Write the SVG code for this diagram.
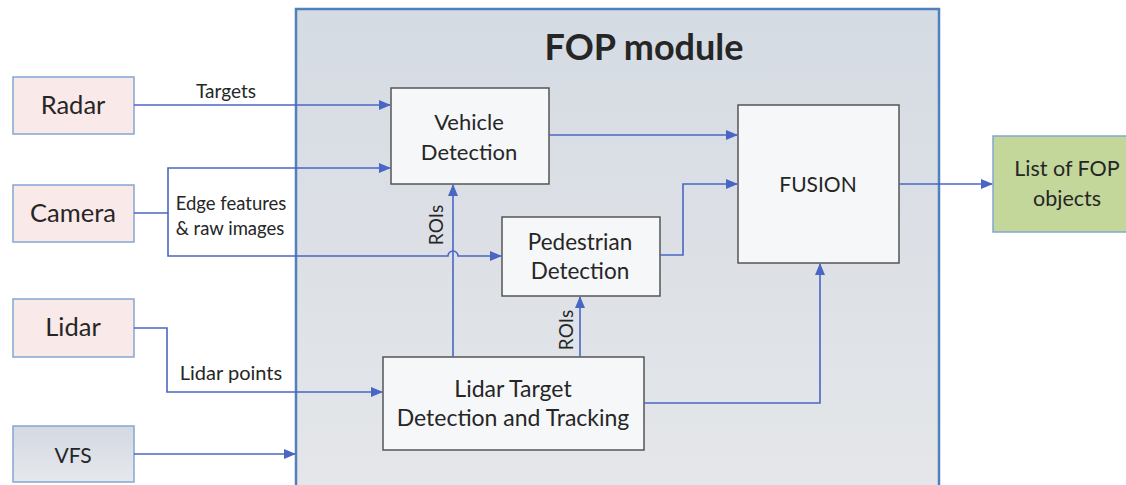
<svg xmlns="http://www.w3.org/2000/svg" width="1126" height="485" viewBox="0 0 1126 485">
  <style>
    .src { fill: #f9e9e8; stroke: #85a6d2; stroke-width: 1.5; }
    .blk { fill: #f6f7f9; stroke: #555; stroke-width: 1.5; }
    .lbl { font-family: Lato, "Open Sans", sans-serif; fill: #262626; text-anchor: middle; dominant-baseline: central; }
    .edge { fill: none; stroke: #4a66c4; stroke-width: 1.6; }
  </style>
  <defs>
    <linearGradient id="modFill" x1="0" y1="0" x2="0" y2="1">
      <stop offset="0" stop-color="#d5dbe3"/>
      <stop offset="1" stop-color="#e4e6e9"/>
    </linearGradient>
    <linearGradient id="vfsFill" x1="0" y1="0" x2="0" y2="1">
      <stop offset="0" stop-color="#d3d9e2"/>
      <stop offset="1" stop-color="#e6e8ec"/>
    </linearGradient>
    <marker id="arr" markerWidth="12" markerHeight="10" refX="11" refY="5" orient="auto" markerUnits="userSpaceOnUse">
      <path d="M0,0 L12,5 L0,10 Z" fill="#4a66c4"/>
    </marker>
  </defs>

  <!-- FOP module container -->
  <g id="fop-module">
    <rect x="296" y="9" width="643" height="478" fill="url(#modFill)" stroke="#4f81bd" stroke-width="2.5"/>
    <text class="lbl" x="644" y="46" font-size="36" font-weight="bold" fill="#111">FOP module</text>
  </g>

  <!-- sources -->
  <g id="radar">
    <rect class="src" x="13" y="77" width="121" height="57"/>
    <text class="lbl" x="73" y="104" font-size="25.5">Radar</text>
  </g>
  <g id="camera">
    <rect class="src" x="13" y="185" width="121" height="57"/>
    <text class="lbl" x="73" y="212" font-size="25.5">Camera</text>
  </g>
  <g id="lidar">
    <rect class="src" x="13" y="299" width="121" height="58"/>
    <text class="lbl" x="73" y="326" font-size="25.5">Lidar</text>
  </g>
  <g id="vfs">
    <rect x="13" y="426" width="121" height="56" fill="url(#vfsFill)" stroke="#85a6d2" stroke-width="1.5"/>
    <text class="lbl" x="73" y="454" font-size="21">VFS</text>
  </g>

  <!-- processing blocks -->
  <g id="vehicle-detection">
    <rect class="blk" x="391" y="88" width="158" height="96"/>
    <text class="lbl" x="469" y="121" font-size="22">Vehicle</text>
    <text class="lbl" x="469" y="151" font-size="22">Detection</text>
  </g>
  <g id="pedestrian-detection">
    <rect class="blk" x="502" y="217" width="158" height="79"/>
    <text class="lbl" x="580" y="241" font-size="22.5">Pedestrian</text>
    <text class="lbl" x="580" y="270" font-size="22.5">Detection</text>
  </g>
  <g id="fusion">
    <rect class="blk" x="738" y="105" width="161" height="158"/>
    <text class="lbl" x="818" y="183" font-size="21">FUSION</text>
  </g>
  <g id="lidar-tracking">
    <rect class="blk" x="383" y="357" width="261" height="93"/>
    <text class="lbl" x="513" y="388" font-size="23">Lidar Target</text>
    <text class="lbl" x="513" y="417" font-size="23">Detection and Tracking</text>
  </g>
  <g id="fop-objects">
    <rect x="993" y="136" width="140" height="96" fill="#c4d79b" stroke="#85a6d2" stroke-width="1.5"/>
    <text class="lbl" x="1067" y="168" font-size="21.5">List of FOP</text>
    <text class="lbl" x="1067" y="198" font-size="21.5">objects</text>
  </g>

  <!-- connectors -->
  <g id="connectors">
    <path class="edge" d="M134,105 H390" marker-end="url(#arr)"/>
    <path class="edge" d="M134,213 H168 V168 H390" marker-end="url(#arr)"/>
    <path class="edge" d="M168,213 V256 H448 A5,5 0 0 1 458,256 H501" marker-end="url(#arr)"/>
    <path class="edge" d="M134,328 H167 V392 H382" marker-end="url(#arr)"/>
    <path class="edge" d="M134,454 H295" marker-end="url(#arr)"/>
    <path class="edge" d="M453,357 V185" marker-end="url(#arr)"/>
    <path class="edge" d="M580,357 V297" marker-end="url(#arr)"/>
    <path class="edge" d="M549,135 H737" marker-end="url(#arr)"/>
    <path class="edge" d="M660,255 H683 V184 H737" marker-end="url(#arr)"/>
    <path class="edge" d="M644,403 H820 V264" marker-end="url(#arr)"/>
    <path class="edge" d="M899,184 H992" marker-end="url(#arr)"/>
    <text class="lbl" x="226" y="90" font-size="19">Targets</text>
    <text class="lbl" x="231" y="203" font-size="18.5">Edge features</text>
    <text class="lbl" x="230" y="228" font-size="18.5">&amp; raw images</text>
    <text class="lbl" x="231" y="372" font-size="20">Lidar points</text>
    <text class="lbl" x="0" y="0" font-size="19" transform="translate(435,225) rotate(-90)">ROIs</text>
    <text class="lbl" x="0" y="0" font-size="19" transform="translate(565,330) rotate(-90)">ROIs</text>
  </g>
</svg>
